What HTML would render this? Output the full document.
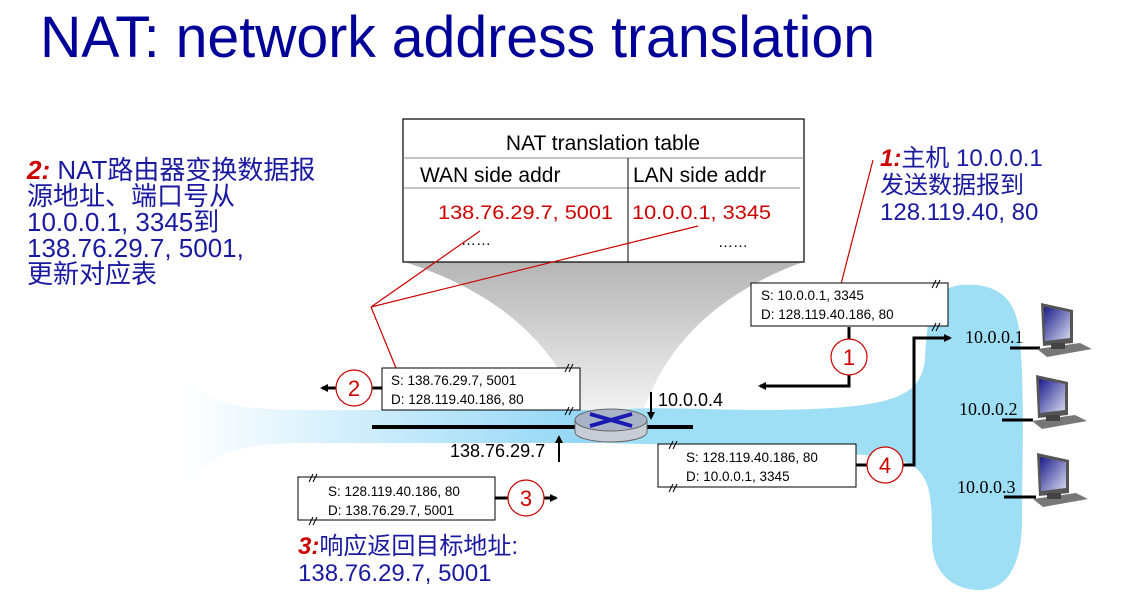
<!DOCTYPE html>
<html><head><meta charset="utf-8"><style>
html,body{margin:0;padding:0;background:#fff;}
svg{display:block;}
.cn{font-family:"Liberation Sans","Noto Sans CJK SC",sans-serif;}
</style></head><body>
<svg width="1146" height="605" viewBox="0 0 1146 605" xmlns="http://www.w3.org/2000/svg">
<defs>
<linearGradient id="gray" x1="0" y1="0" x2="0" y2="1">
<stop offset="0" stop-color="#a8a8a8"/><stop offset="1" stop-color="#f4f4f4"/>
</linearGradient>
<linearGradient id="lblue" x1="0" y1="0" x2="1" y2="0">
<stop offset="0" stop-color="#ffffff"/><stop offset="1" stop-color="#8fd5f5"/>
</linearGradient>
<linearGradient id="scr" x1="0" y1="0" x2="1" y2="1">
<stop offset="0" stop-color="#1a1a8a"/><stop offset="1" stop-color="#d8dcf0"/>
</linearGradient>
<marker id="ah" markerWidth="8" markerHeight="8" refX="6" refY="4" orient="auto" markerUnits="userSpaceOnUse">
<path d="M0,0 L8,4 L0,8 z" fill="#000"/></marker>
</defs>

<text x="40" y="57" font-family="Liberation Sans,sans-serif" font-size="58" fill="#000099" textLength="835" lengthAdjust="spacingAndGlyphs">NAT: network address translation</text>

<path d="M405,262 C520,300 560,360 585,420 L640,420 C660,360 700,300 803,262 Z" fill="url(#gray)" opacity="0.85"/>

<path d="M185,372 C200,400 230,410 300,410 L600,410 L600,443 L300,443 C230,443 200,460 185,492 Z" fill="url(#lblue)"/>
<path d="M600,412 C640,405 700,410 760,410 C900,410 920,395 925,360 C928,310 930,290 960,285 C1000,282 1018,300 1020,340 C1025,400 1022,460 1022,520 C1022,560 1010,590 980,590 C950,590 932,570 932,540 C932,490 930,470 900,460 C850,450 700,445 600,443 Z" fill="#9edff6"/>

<rect x="403" y="119" width="401" height="143" fill="#fff" stroke="#000" stroke-width="1.2"/>
<line x1="403" y1="158" x2="804" y2="158" stroke="#888" stroke-width="1"/>
<line x1="403" y1="188" x2="800" y2="188" stroke="#888" stroke-width="1"/>
<line x1="628" y1="158" x2="628" y2="262" stroke="#000" stroke-width="1"/>
<g font-family="Liberation Sans,sans-serif">
<text x="603" y="150" font-size="21" text-anchor="middle">NAT translation table</text>
<text x="420" y="182" font-size="21">WAN side addr</text>
<text x="633" y="182" font-size="21">LAN side addr</text>
<text x="438" y="219" font-size="19" fill="#cc0000" textLength="175" lengthAdjust="spacingAndGlyphs">138.76.29.7, 5001</text>
<text x="632" y="219" font-size="19" fill="#cc0000" textLength="139" lengthAdjust="spacingAndGlyphs">10.0.0.1, 3345</text>
<text x="461" y="245" font-size="15">……</text>
<text x="718" y="247" font-size="15">……</text>
</g>

<g stroke="#cc0000" stroke-width="1.2" fill="none">
<polyline points="480,231 371,307 698,226"/>
<line x1="371" y1="307" x2="396" y2="368"/>
<line x1="841" y1="284" x2="873" y2="160"/>
</g>

<line x1="372" y1="427" x2="693" y2="427" stroke="#000" stroke-width="4"/>
<path d="M575,420 L575,432 A36,10 0 0 0 647,432 L647,420 Z" fill="#c8ccd4" stroke="#666"/>
<ellipse cx="611" cy="420" rx="36" ry="11" fill="#a9b3c8" stroke="#666"/>
<path d="M590,414 L632,426 M632,414 L590,426" stroke="#1a1ab0" stroke-width="4"/>

<line x1="651" y1="392" x2="651" y2="418" stroke="#000" stroke-width="2" marker-end="url(#ah)"/>
<line x1="559" y1="462" x2="559" y2="437" stroke="#000" stroke-width="2" marker-end="url(#ah)"/>
<g font-family="Liberation Sans,sans-serif" font-size="18">
<text x="658" y="406">10.0.0.4</text>
<text x="450" y="457">138.76.29.7</text>
</g>

<g font-family="Liberation Sans,sans-serif" font-size="13.5" fill="#000">
<rect x="382" y="368" width="198" height="42" fill="#fff" stroke="#000"/>
<text x="391" y="385">S: 138.76.29.7, 5001</text>
<text x="391" y="404">D: 128.119.40.186, 80</text>
<rect x="751" y="283" width="197" height="43" fill="#fff" stroke="#000"/>
<text x="761" y="300">S: 10.0.0.1, 3345</text>
<text x="761" y="319">D: 128.119.40.186, 80</text>
<rect x="658" y="444" width="198" height="43" fill="#fff" stroke="#000"/>
<text x="686" y="462">S: 128.119.40.186, 80</text>
<text x="686" y="481">D: 10.0.0.1, 3345</text>
<rect x="298" y="477" width="197" height="43" fill="#fff" stroke="#000"/>
<text x="328" y="496">S: 128.119.40.186, 80</text>
<text x="328" y="515">D: 138.76.29.7, 5001</text>
</g>
<g stroke="#000" stroke-width="1" fill="none">
<path d="M565,372 l4,-8 M569,372 l4,-8"/><path d="M565,415 l4,-8 M569,415 l4,-8"/>
<path d="M932,288 l4,-8 M936,288 l4,-8"/><path d="M932,331 l4,-8 M936,331 l4,-8"/>
<path d="M669,449 l4,-8 M673,449 l4,-8"/><path d="M669,492 l4,-8 M673,492 l4,-8"/>
<path d="M309,482 l4,-8 M313,482 l4,-8"/><path d="M309,525 l4,-8 M313,525 l4,-8"/>
</g>

<g stroke="#000" stroke-width="3" fill="none">
<line x1="382" y1="388" x2="372" y2="388"/>
<line x1="336" y1="388" x2="322" y2="388" marker-end="url(#ah)"/>
<line x1="849" y1="327" x2="849" y2="339"/>
<polyline points="849,375 849,386 760,386" marker-end="url(#ah)"/>
<line x1="856" y1="465" x2="867" y2="465"/>
<polyline points="903,465 914,465 914,338 950,338" marker-end="url(#ah)"/>
<line x1="495" y1="498" x2="508" y2="498"/>
<line x1="544" y1="498" x2="556" y2="498" marker-end="url(#ah)"/>
</g>
<g fill="#fff" stroke="#cc0000" stroke-width="1.2">
<circle cx="354" cy="388" r="18"/><circle cx="849" cy="357" r="18"/>
<circle cx="885" cy="465" r="18"/><circle cx="526" cy="498" r="18"/>
</g>
<g font-family="Liberation Sans,sans-serif" font-size="22" fill="#cc0000" text-anchor="middle">
<text x="354" y="396">2</text><text x="849" y="365">1</text>
<text x="885" y="473">4</text><text x="526" y="506">3</text>
</g>

<g font-family="Liberation Serif,serif" font-size="18">
<text x="965" y="343">10.0.0.1</text>
<text x="959" y="415">10.0.0.2</text>
<text x="957" y="493">10.0.0.3</text>
</g>
<g stroke="#000" stroke-width="3">
<line x1="1010" y1="348" x2="1040" y2="348"/>
<line x1="1002" y1="420" x2="1033" y2="420"/>
<line x1="1004" y1="497" x2="1036" y2="497"/>
</g>
<g>
<g transform="translate(1035,303)"><path d="M6,0 L38,7 L38,40 L8,43 Z" fill="#555"/><path d="M9,4 L35,9 L35,35 L10,38 Z" fill="url(#scr)"/><path d="M2,46 L45,40 L57,46 L12,54 Z" fill="#777"/><rect x="16" y="40" width="14" height="6" fill="#444"/></g>
<g transform="translate(1030,375)"><path d="M6,0 L38,7 L38,40 L8,43 Z" fill="#555"/><path d="M9,4 L35,9 L35,35 L10,38 Z" fill="url(#scr)"/><path d="M2,46 L45,40 L57,46 L12,54 Z" fill="#777"/><rect x="16" y="40" width="14" height="6" fill="#444"/></g>
<g transform="translate(1031,453)"><path d="M6,0 L38,7 L38,40 L8,43 Z" fill="#555"/><path d="M9,4 L35,9 L35,35 L10,38 Z" fill="url(#scr)"/><path d="M2,46 L45,40 L57,46 L12,54 Z" fill="#777"/><rect x="16" y="40" width="14" height="6" fill="#444"/></g>
</g>

<g class="cn" font-size="26" fill="#1a1aa0">
<text x="27" y="179"><tspan fill="#cc0000" font-weight="bold" font-style="italic">2:</tspan> NAT路由器变换数据报</text>
<text x="27" y="205">源地址、端口号从</text>
<text x="27" y="231">10.0.0.1, 3345到</text>
<text x="27" y="257">138.76.29.7, 5001,</text>
<text x="27" y="283">更新对应表</text>
</g>
<g class="cn" font-size="24" fill="#1a1aa0">
<text x="880" y="166"><tspan fill="#cc0000" font-weight="bold" font-style="italic">1:</tspan>主机 10.0.0.1</text>
<text x="880" y="193">发送数据报到</text>
<text x="880" y="220">128.119.40, 80</text>
<text x="298" y="554"><tspan fill="#cc0000" font-weight="bold" font-style="italic">3:</tspan>响应返回目标地址:</text>
<text x="298" y="581">138.76.29.7, 5001</text>
</g>
</svg>
</body></html>
